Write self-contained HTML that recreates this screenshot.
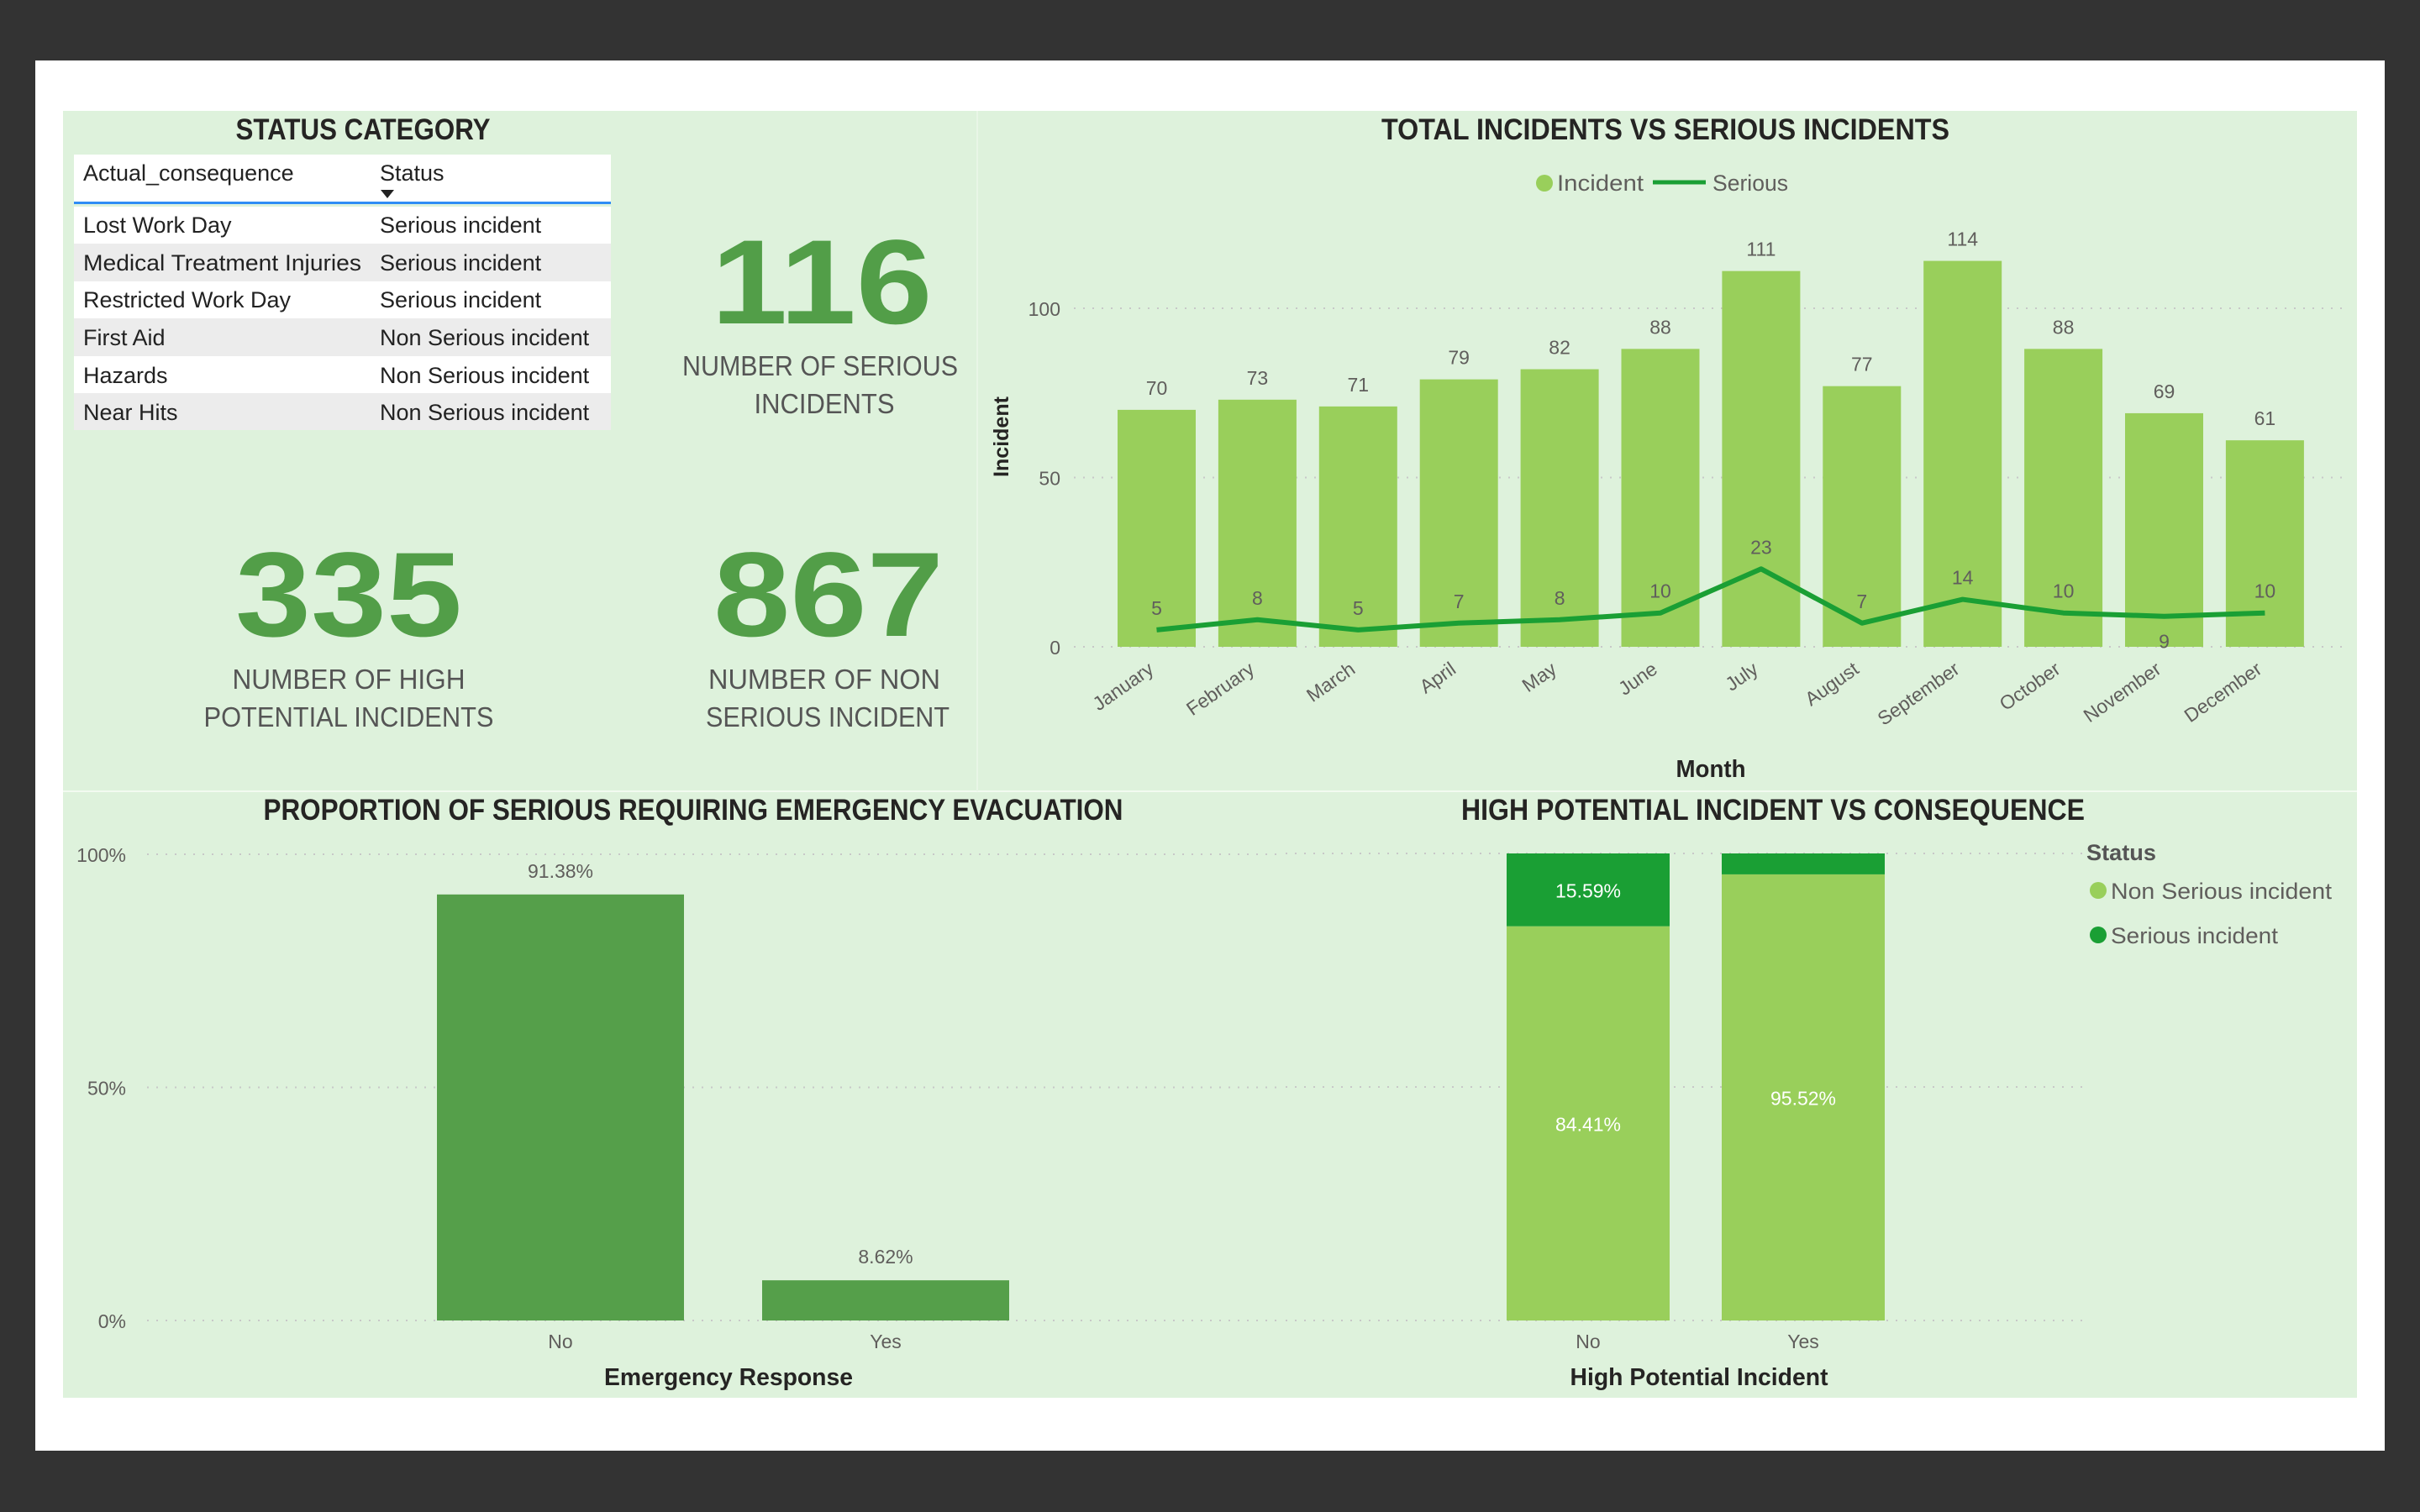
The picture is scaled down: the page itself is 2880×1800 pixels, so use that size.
<!DOCTYPE html>
<html><head><meta charset="utf-8">
<style>
html,body{margin:0;padding:0;background:#333;}
body{width:2880px;height:1800px;overflow:hidden;position:relative;font-family:"Liberation Sans",sans-serif;}
svg{position:absolute;left:0;top:0;}
.ttl{font-family:"Liberation Sans",sans-serif;font-weight:bold;font-size:35px;fill:#252423;text-anchor:middle;}
.lbl{font-size:23px;fill:#605e5c;}
.tbl{font-size:27px;fill:#222;}
.kpi{font-family:"Liberation Sans",sans-serif;font-weight:900;font-size:143px;fill:#529e48;text-anchor:middle;}
.kcap{font-family:"Liberation Sans",sans-serif;font-size:33px;fill:#555;text-anchor:middle;}
.axt{font-family:"Liberation Sans",sans-serif;font-weight:bold;font-size:29px;fill:#252423;text-anchor:middle;}
</style></head>
<body>
<svg id="dash" width="2880" height="1800" xmlns="http://www.w3.org/2000/svg">
  <rect x="0" y="0" width="2880" height="1800" fill="#333"/>
  <rect x="42" y="72" width="2796" height="1655" fill="#ffffff"/>
  <rect x="75" y="132" width="2730" height="1532" fill="#def2dc"/>
  <line x1="75" y1="942" x2="2805" y2="942" stroke="#f2faf0" stroke-width="2"/>
  <line x1="1163" y1="132" x2="1163" y2="942" stroke="#e8f6e6" stroke-width="2"/>

  <text class="ttl" x="432" y="166" textLength="303" lengthAdjust="spacingAndGlyphs">STATUS CATEGORY</text>
  <g>
    <rect x="88" y="184" width="639" height="58" fill="#fff"/>
    <text class="tbl" x="99" y="215">Actual_consequence</text>
    <text class="tbl" x="452" y="215">Status</text>
    <path d="M453 226 L469 226 L461 236 Z" fill="#222"/>
    <rect x="88" y="240" width="639" height="3" fill="#2f8cf5"/>
    <rect x="88" y="246" width="639" height="44" fill="#fff"/>
    <rect x="88" y="290" width="639" height="45" fill="#ececec"/>
    <rect x="88" y="335" width="639" height="44" fill="#fff"/>
    <rect x="88" y="379" width="639" height="45" fill="#ececec"/>
    <rect x="88" y="424" width="639" height="44" fill="#fff"/>
    <rect x="88" y="468" width="639" height="44" fill="#ececec"/>
    <text class="tbl" x="99" y="277">Lost Work Day</text>
    <text class="tbl" x="452" y="277">Serious incident</text>
    <text class="tbl" x="99" y="322" textLength="331" lengthAdjust="spacingAndGlyphs">Medical Treatment Injuries</text>
    <text class="tbl" x="452" y="322">Serious incident</text>
    <text class="tbl" x="99" y="366">Restricted Work Day</text>
    <text class="tbl" x="452" y="366">Serious incident</text>
    <text class="tbl" x="99" y="411">First Aid</text>
    <text class="tbl" x="452" y="411">Non Serious incident</text>
    <text class="tbl" x="99" y="456">Hazards</text>
    <text class="tbl" x="452" y="456">Non Serious incident</text>
    <text class="tbl" x="99" y="500">Near Hits</text>
    <text class="tbl" x="452" y="500">Non Serious incident</text>
  </g>

  <text class="kpi" x="978" y="385" textLength="263" lengthAdjust="spacingAndGlyphs">116</text>
  <text class="kcap" x="976" y="447" textLength="328" lengthAdjust="spacingAndGlyphs">NUMBER OF SERIOUS</text>
  <text class="kcap" x="981" y="492" textLength="167" lengthAdjust="spacingAndGlyphs">INCIDENTS</text>
  <text class="kpi" x="415" y="757" textLength="270" lengthAdjust="spacingAndGlyphs">335</text>
  <text class="kcap" x="415" y="820" textLength="277" lengthAdjust="spacingAndGlyphs">NUMBER OF HIGH</text>
  <text class="kcap" x="415" y="865" textLength="345" lengthAdjust="spacingAndGlyphs">POTENTIAL INCIDENTS</text>
  <text class="kpi" x="986" y="757" textLength="274" lengthAdjust="spacingAndGlyphs">867</text>
  <text class="kcap" x="981" y="820" textLength="276" lengthAdjust="spacingAndGlyphs">NUMBER OF NON</text>
  <text class="kcap" x="985" y="865" textLength="290" lengthAdjust="spacingAndGlyphs">SERIOUS INCIDENT</text>

  <text class="ttl" x="1982" y="166" textLength="676" lengthAdjust="spacingAndGlyphs">TOTAL INCIDENTS VS SERIOUS INCIDENTS</text>
  <g>
    <circle cx="1838" cy="218" r="10" fill="#99cf5b"/>
    <text class="lbl" x="1853" y="227" style="font-size:27px" textLength="103" lengthAdjust="spacingAndGlyphs">Incident</text>
    <line x1="1967" y1="217" x2="2030" y2="217" stroke="#1a9f34" stroke-width="5"/>
    <text class="lbl" x="2038" y="227" style="font-size:27px" textLength="90" lengthAdjust="spacingAndGlyphs">Serious</text>
  </g>
  <text class="axt" transform="translate(1200,520) rotate(-90)" style="font-size:25px">Incident</text>
  <text class="axt" x="2036" y="925" textLength="83" lengthAdjust="spacingAndGlyphs">Month</text>
  <g id="topChart"></g>

  <text class="ttl" x="825" y="976" textLength="1023" lengthAdjust="spacingAndGlyphs">PROPORTION OF SERIOUS REQUIRING EMERGENCY EVACUATION</text>
  <g id="evacChart"></g>
  <text class="axt" x="867" y="1649" textLength="296" lengthAdjust="spacingAndGlyphs">Emergency Response</text>

  <text class="ttl" x="2110" y="976" textLength="742" lengthAdjust="spacingAndGlyphs">HIGH POTENTIAL INCIDENT VS CONSEQUENCE</text>
  <g id="hpChart"></g>
  <text class="axt" x="2022" y="1649" textLength="307" lengthAdjust="spacingAndGlyphs">High Potential Incident</text>
  <g>
    <text x="2483" y="1024" textLength="83" lengthAdjust="spacingAndGlyphs" style="font-family:'Liberation Sans',sans-serif;font-weight:bold;font-size:27px;fill:#555">Status</text>
    <circle cx="2497" cy="1060" r="10" fill="#99cf5b"/>
    <text class="lbl" x="2512" y="1070" style="font-size:27px" textLength="263" lengthAdjust="spacingAndGlyphs">Non Serious incident</text>
    <circle cx="2497" cy="1113" r="10" fill="#1a9f34"/>
    <text class="lbl" x="2512" y="1123" style="font-size:27px" textLength="199" lengthAdjust="spacingAndGlyphs">Serious incident</text>
  </g>
</svg>
<script>
const months = ["January","February","March","April","May","June","July","August","September","October","November","December"];
const incidents = [70,73,71,79,82,88,111,77,114,88,69,61];
const serious = [5,8,5,7,8,10,23,7,14,10,9,10];
const topTicks = [0,50,100];
const evacCats = ["No","Yes"];
const evacVals = [91.38,8.62];
const pctTicks = [0,50,100];
const hpCats = ["No","Yes"];
const hpNonSerious = [84.41,95.52];
const hpSerious = [15.59,4.48];

const NS = "http://www.w3.org/2000/svg";
function mk(tag, attrs, parent){ const e=document.createElementNS(NS,tag); for(const k in attrs) e.setAttribute(k,attrs[k]); parent.appendChild(e); return e; }

(function(){
  const g=document.getElementById('topChart');
  const y0=770, pxPer=4.03, left=1330, pitch=119.9, bw=93;
  const yS=v=>y0-v*pxPer, xC=i=>left+bw/2+i*pitch;
  topTicks.forEach(t=>{
    const l=mk('line',{x1:1278,x2:2794,y1:yS(t),y2:yS(t),stroke:'#c8c8c8','stroke-width':2,'stroke-dasharray':'2,9'},g);
    
    
    const tx=mk('text',{x:1262,y:yS(t)+9,'text-anchor':'end',class:'lbl','font-size':25},g);
    tx.textContent=t;
    
    
  });
  incidents.forEach((v,i)=>{
    const r=mk('rect',{x:xC(i)-bw/2,y:yS(v),width:bw,height:v*pxPer,fill:'#99cf5b'},g);
    
    
    const t=mk('text',{x:xC(i),y:yS(v)-18,'text-anchor':'middle',class:'lbl'},g);
    t.textContent=v;
    
    
    const m=mk('text',{transform:'translate('+(xC(i)-2)+','+(y0+30)+') rotate(-35)','text-anchor':'end',class:'lbl','font-size':26},g);
    m.textContent=months[i];
    
    
  });
  const pts=serious.map((v,i)=>xC(i)+','+yS(v)).join(' ');
  const pl=mk('polyline',{points:pts,fill:'none',stroke:'#1a9f34','stroke-width':6,'stroke-linejoin':'round'},g);
  
  
  serious.forEach((v,i)=>{
    const below = i===10;
    const t=mk('text',{x:xC(i),y:below?yS(v)+38:yS(v)-18,'text-anchor':'middle',class:'lbl'},g);
    t.textContent=v;
    
    
  });
})();

(function(){
  const g=document.getElementById('evacChart');
  const y0=1572, h=555, yS=v=>y0-v/100*h;
  const xs=[520,907], bw=294;
  pctTicks.forEach(t=>{
    const l=mk('line',{x1:175,x2:1520,y1:yS(t),y2:yS(t),stroke:'#c8c8c8','stroke-width':2,'stroke-dasharray':'2,9'},g);
    
    
    const tx=mk('text',{x:150,y:yS(t)+9,'text-anchor':'end',class:'lbl','font-size':25},g);
    tx.textContent=t+'%';
    
    
  });
  evacVals.forEach((v,i)=>{
    const r=mk('rect',{x:xs[i],y:yS(v),width:bw,height:v/100*h,fill:'#559f4a'},g);
    
    
    const t=mk('text',{x:xs[i]+bw/2,y:yS(v)-20,'text-anchor':'middle',class:'lbl'},g);
    t.textContent=v.toFixed(2)+'%';
    
    
    const c=mk('text',{x:xs[i]+bw/2,y:1605,'text-anchor':'middle',class:'lbl','font-size':25},g);
    c.textContent=evacCats[i];
    
    
  });
})();

(function(){
  const g=document.getElementById('hpChart');
  const y0=1572, h=556, yS=v=>y0-v/100*h;
  const xs=[1793,2049], bw=194;
  pctTicks.forEach(t=>{
    const l=mk('line',{x1:1530,x2:2484,y1:yS(t),y2:yS(t),stroke:'#c8c8c8','stroke-width':2,'stroke-dasharray':'2,9'},g);
    
    
  });
  hpCats.forEach((c,i)=>{
    const ns=hpNonSerious[i], s=hpSerious[i];
    const r1=mk('rect',{x:xs[i],y:yS(ns),width:bw,height:ns/100*h,fill:'#99cf5b'},g);
    
    
    const r2=mk('rect',{x:xs[i],y:yS(ns+s),width:bw,height:s/100*h,fill:'#1a9f34'},g);
    
    
    const t1=mk('text',{x:xs[i]+bw/2,y:yS(ns/2)+9,'text-anchor':'middle',class:'lbl',style:'fill:#fff'},g);
    t1.textContent=ns.toFixed(2)+'%';
    
    
    if(s>8){
      const t2=mk('text',{x:xs[i]+bw/2,y:yS(ns+s/2)+9,'text-anchor':'middle',class:'lbl',style:'fill:#fff'},g);
      t2.textContent=s.toFixed(2)+'%';
      
      
    }
    const ct=mk('text',{x:xs[i]+bw/2,y:1605,'text-anchor':'middle',class:'lbl','font-size':25},g);
    ct.textContent=c;
    
    
  });
})();
</script>
</body></html>
